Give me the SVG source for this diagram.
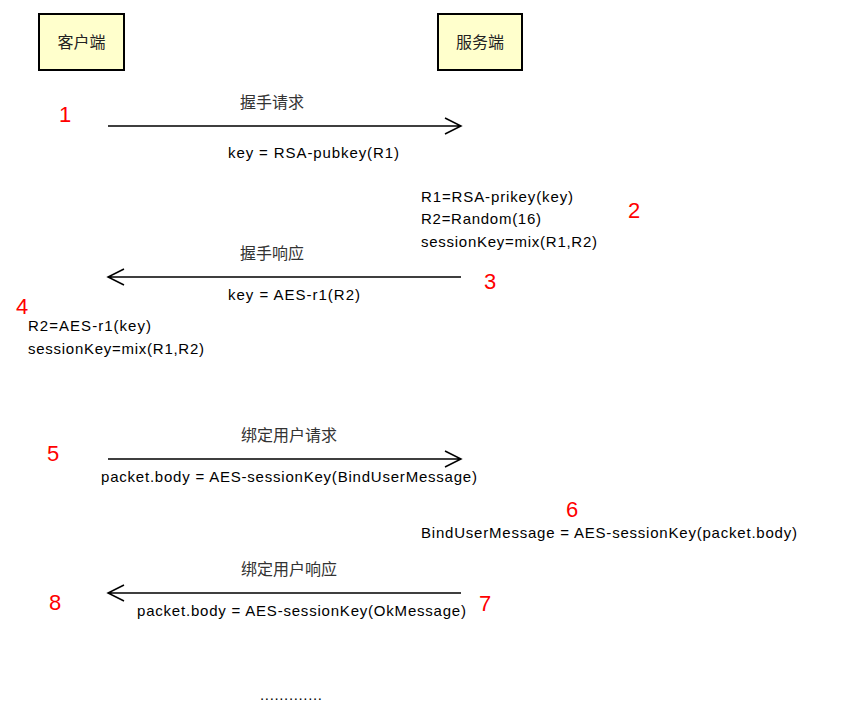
<svg xmlns="http://www.w3.org/2000/svg" width="842" height="725" viewBox="0 0 842 725">
<style>
.box{fill:#ffffcc;stroke:#000;stroke-width:2}
.cn{font-family:"Liberation Sans","Noto Sans CJK SC",sans-serif;font-size:16px;fill:#222}
.lbl{font-family:"Liberation Sans","Noto Sans CJK SC",sans-serif;font-size:16px;fill:#333}
.t{font-family:"Liberation Sans",Arial,sans-serif;font-size:15px;fill:#000}
.num{font-family:"Liberation Sans",Arial,sans-serif;font-size:22px;fill:#ff0000}
.ln{stroke:#000;stroke-width:1.5;fill:none}
</style>
<rect width="842" height="725" fill="#fff"/>
<g id="client"><rect class="box" x="39" y="14" width="85" height="56"/><text class="cn" x="81.5" y="48" text-anchor="middle">客户端</text></g>
<g id="server"><rect class="box" x="438" y="14" width="84" height="56"/><text class="cn" x="480" y="48" text-anchor="middle">服务端</text></g>
<g id="connectors">
<path class="ln" d="M108 126H461M445 118L461 126L445 134"/>
<path class="ln" d="M461 277H108M124 269L108 277L124 285"/>
<path class="ln" d="M108 459H461M445 451L461 459L445 467"/>
<path class="ln" d="M461 593H108M124 585L108 593L124 601"/>
</g>
<g id="labels">
<text class="lbl" x="272" y="108" text-anchor="middle">握手请求</text>
<text class="t" x="228" y="158" textLength="171">key = RSA-pubkey(R1)</text>
<text class="lbl" x="272" y="259" text-anchor="middle">握手响应</text>
<text class="t" x="228" y="300" textLength="132">key = AES-r1(R2)</text>
<text class="lbl" x="289" y="441" text-anchor="middle">绑定用户请求</text>
<text class="t" x="101" y="482" textLength="376">packet.body = AES-sessionKey(BindUserMessage)</text>
<text class="lbl" x="289" y="575" text-anchor="middle">绑定用户响应</text>
<text class="t" x="137" y="616" textLength="329">packet.body = AES-sessionKey(OkMessage)</text>
</g>
<g id="server-notes">
<text class="t" x="421" y="202" textLength="152">R1=RSA-prikey(key)</text>
<text class="t" x="421" y="224" textLength="120">R2=Random(16)</text>
<text class="t" x="421" y="247" textLength="176">sessionKey=mix(R1,R2)</text>
<text class="t" x="421" y="538" textLength="376">BindUserMessage = AES-sessionKey(packet.body)</text>
</g>
<g id="client-notes">
<text class="t" x="28" y="331" textLength="123">R2=AES-r1(key)</text>
<text class="t" x="28" y="354" textLength="176">sessionKey=mix(R1,R2)</text>
</g>
<g id="numbers">
<text class="num" x="59" y="122">1</text>
<text class="num" x="628" y="218">2</text>
<text class="num" x="484" y="289">3</text>
<text class="num" x="16" y="314">4</text>
<text class="num" x="47" y="461">5</text>
<text class="num" x="566" y="517">6</text>
<text class="num" x="479" y="611">7</text>
<text class="num" x="49" y="610">8</text>
</g>
<text class="t" x="260" y="700" textLength="62">.............</text>
</svg>
